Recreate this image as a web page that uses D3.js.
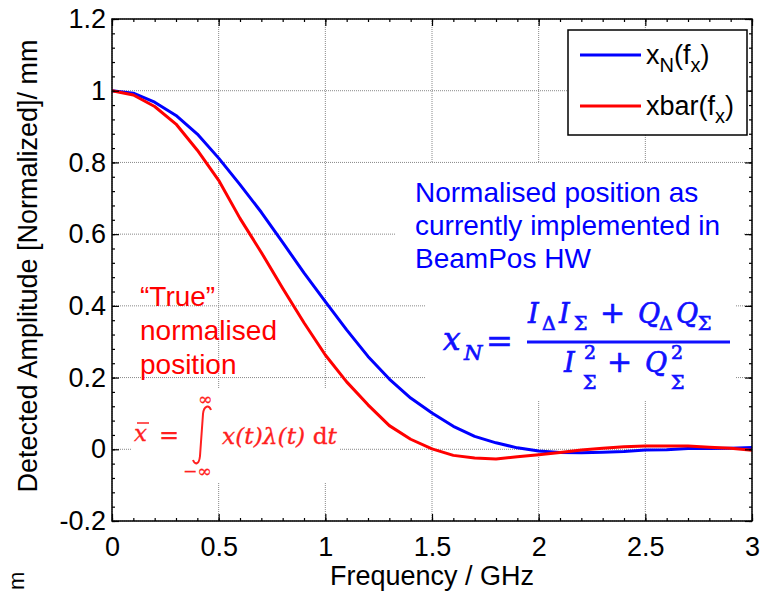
<!DOCTYPE html>
<html>
<head>
<meta charset="utf-8">
<script src="https://cdn.jsdelivr.net/npm/d3@7"></script>
<style>
  body { margin: 0; background: #fff; }
  svg text { font-family: "Liberation Sans", Arial, sans-serif; }
  .math { font-family: "DejaVu Serif", "Liberation Serif", serif; font-style: italic; }
  .mathup { font-family: "DejaVu Serif", "Liberation Serif", serif; }
  .grid line { stroke: #888; stroke-width: 1; stroke-dasharray: 1,1; }
  .axis path { display: none; }
  .axis line { stroke: #000; stroke-width: 1.2; }
  .axis text { font-size: 27px; fill: #000; }
</style>
</head>
<body>
<svg id="chart"></svg>
<script>
// frequency samples (GHz) and the two normalised responses
const freq = [0, 0.1, 0.2, 0.3, 0.4, 0.5, 0.6, 0.7, 0.8, 0.9, 1.0,
  1.1, 1.2, 1.3, 1.4, 1.5, 1.6, 1.7, 1.8, 1.9, 2.0,
  2.1, 2.2, 2.3, 2.4, 2.5, 2.6, 2.7, 2.8, 2.9, 3.0];
const xN = [1.000, 0.993, 0.968, 0.931, 0.879, 0.812, 0.738, 0.661, 0.577, 0.492, 0.412,
  0.333, 0.259, 0.196, 0.143, 0.101, 0.064, 0.036, 0.018, 0.004, -0.005,
  -0.009, -0.010, -0.008, -0.006, -0.002, -0.001, 0.002, 0.002, 0.003, 0.005];
const xBar = [1.000, 0.988, 0.956, 0.907, 0.834, 0.750, 0.644, 0.549, 0.449, 0.353, 0.263,
  0.188, 0.124, 0.066, 0.028, 0.001, -0.017, -0.024, -0.027, -0.021, -0.015,
  -0.009, -0.002, 0.003, 0.007, 0.009, 0.009, 0.009, 0.006, 0.003, -0.003];

const xTicks = [0, 0.5, 1, 1.5, 2, 2.5, 3];
const yTicks = [-0.2, 0, 0.2, 0.4, 0.6, 0.8, 1, 1.2];
const xMinorTicks = d3.range(0, 31).map(i => i / 10);
const yMinorTicks = d3.range(0, 36).map(i => -0.2 + i * 0.04);

const seriesColors = ['#0000ff', '#ff0000'];
const blueNote = ['Normalised position as', 'currently implemented in', 'BeamPos HW'];
const redNote = ['\u201CTrue\u201D', 'normalised', 'position'];

const margin = { top: 19, right: 12, bottom: 71, left: 112 };
const W = 764, H = 592;
const width = W - margin.left - margin.right;
const height = H - margin.top - margin.bottom;

const svg = d3.select('#chart').attr('width', W).attr('height', H);

const x = d3.scaleLinear().domain([0, 3]).range([margin.left, margin.left + width]);
const y = d3.scaleLinear().domain([-0.2, 1.2]).range([margin.top + height, margin.top]);

// grid
const grid = svg.append('g').attr('class', 'grid');
grid.selectAll('.gx').data(xTicks).join('line')
  .attr('x1', d => x(d)).attr('x2', d => x(d))
  .attr('y1', y(1.2)).attr('y2', y(-0.2));
grid.selectAll('.gy').data(yTicks).join('line')
  .attr('x1', x(0)).attr('x2', x(3))
  .attr('y1', d => y(d)).attr('y2', d => y(d));

// white backgrounds of the pasted annotations hide the grid
svg.append('rect').attr('x', 395).attr('y', 163).attr('width', 348).attr('height', 142).attr('fill', '#fff');
svg.append('rect').attr('x', 425).attr('y', 300).attr('width', 310).attr('height', 100).attr('fill', '#fff');
svg.append('rect').attr('x', 132).attr('y', 389).attr('width', 208).attr('height', 93).attr('fill', '#fff');

// curves
const line = d3.line().x((d, i) => x(freq[i])).y(d => y(d));
[xN, xBar].forEach((s, i) => {
  svg.append('path')
    .datum(s)
    .attr('fill', 'none')
    .attr('stroke', seriesColors[i])
    .attr('stroke-width', 3)
    .attr('stroke-linejoin', 'round')
    .attr('d', line);
});

// axes, ticks inward on all four sides
const fmt = d => String(d);
svg.append('g').attr('class', 'axis')
  .attr('transform', `translate(0,${y(-0.2)})`)
  .call(d3.axisBottom(x).tickValues(xTicks).tickSize(-7).tickPadding(16).tickFormat(fmt));
svg.append('g').attr('class', 'axis')
  .attr('transform', `translate(0,${y(-0.2)})`)
  .call(d3.axisBottom(x).tickValues(xMinorTicks).tickSize(-3).tickFormat(''));
svg.append('g').attr('class', 'axis')
  .attr('transform', `translate(0,${y(1.2)})`)
  .call(d3.axisTop(x).tickValues(xTicks).tickSize(-7).tickFormat(''));
svg.append('g').attr('class', 'axis')
  .attr('transform', `translate(0,${y(1.2)})`)
  .call(d3.axisTop(x).tickValues(xMinorTicks).tickSize(-3).tickFormat(''));
svg.append('g').attr('class', 'axis')
  .attr('transform', `translate(${x(0)},0)`)
  .call(d3.axisLeft(y).tickValues(yTicks).tickSize(-7).tickPadding(6).tickFormat(fmt));
svg.append('g').attr('class', 'axis')
  .attr('transform', `translate(${x(0)},0)`)
  .call(d3.axisLeft(y).tickValues(yMinorTicks).tickSize(-3).tickFormat(''));
svg.append('g').attr('class', 'axis')
  .attr('transform', `translate(${x(3)},0)`)
  .call(d3.axisRight(y).tickValues(yTicks).tickSize(-7).tickFormat(''));
svg.append('g').attr('class', 'axis')
  .attr('transform', `translate(${x(3)},0)`)
  .call(d3.axisRight(y).tickValues(yMinorTicks).tickSize(-3).tickFormat(''));

svg.append('rect')
  .attr('x', x(0)).attr('y', y(1.2))
  .attr('width', x(3) - x(0)).attr('height', y(-0.2) - y(1.2))
  .attr('fill', 'none').attr('stroke', '#000').attr('stroke-width', 1.5);

// axis titles
svg.append('text')
  .attr('x', (x(0) + x(3)) / 2).attr('y', 585)
  .attr('text-anchor', 'middle').attr('font-size', 27)
  .text('Frequency / GHz');
svg.append('text')
  .attr('transform', `translate(37,${(y(-0.2) + y(1.2)) / 2 - 4}) rotate(-90)`)
  .attr('text-anchor', 'middle').attr('font-size', 27)
  .text('Detected Amplitude [Normalized]/ mm');
// stray fragment of a neighbouring label
svg.append('text')
  .attr('transform', 'translate(24,590) rotate(-90)')
  .attr('font-size', 22)
  .text('m');

// legend
const lg = svg.append('g');
lg.append('rect').attr('x', 568).attr('y', 30).attr('width', 179).attr('height', 105)
  .attr('fill', '#fff').attr('stroke', '#000').attr('stroke-width', 1.5);
[55, 106].forEach((ly, i) => {
  lg.append('line').attr('x1', 580).attr('x2', 641).attr('y1', ly).attr('y2', ly)
    .attr('stroke', seriesColors[i]).attr('stroke-width', 3);
});
const l1 = lg.append('text').attr('x', 646).attr('y', 64).attr('font-size', 27);
l1.append('tspan').text('x');
l1.append('tspan').attr('font-size', 20).attr('dy', 8).text('N');
l1.append('tspan').attr('dy', -8).text('(f');
l1.append('tspan').attr('font-size', 20).attr('dy', 8).text('x');
l1.append('tspan').attr('dy', -8).text(')');
const l2 = lg.append('text').attr('x', 646).attr('y', 115).attr('font-size', 27);
l2.append('tspan').text('xbar(f');
l2.append('tspan').attr('font-size', 20).attr('dy', 8).text('x');
l2.append('tspan').attr('dy', -8).text(')');

// annotations
svg.append('text').attr('fill', '#0000ff').attr('font-size', 28)
  .selectAll('tspan').data(blueNote).join('tspan')
  .attr('x', 415).attr('y', (d, i) => 202 + i * 33).text(d => d);
svg.append('text').attr('fill', '#ff0000').attr('font-size', 28)
  .selectAll('tspan').data(redNote).join('tspan')
  .attr('x', 140).attr('y', (d, i) => 306 + i * 34).text(d => d);

// x_N formula
const blue = '#1010ff';
function glyph(t, gx, gy, size, cls, color, weight) {
  return svg.append('text').attr('class', cls || 'math').attr('x', gx).attr('y', gy)
    .attr('font-size', size).attr('fill', color || blue)
    .attr('stroke', color || blue).attr('stroke-width', weight === undefined ? 0.7 : weight)
    .text(t);
}
glyph('x', 443, 350, 31);
glyph('N', 464, 360, 21);
glyph('=', 486, 352, 32, 'mathup');
svg.append('line').attr('x1', 527).attr('x2', 730).attr('y1', 342).attr('y2', 342)
  .attr('stroke', blue).attr('stroke-width', 3);
glyph('I', 528, 323, 27);
glyph('\u0394', 542, 330, 19, 'mathup');
glyph('I', 559, 323, 27);
glyph('\u03A3', 574, 330, 19, 'mathup');
glyph('+', 600, 323, 30, 'mathup');
glyph('Q', 638, 323, 27);
glyph('\u0394', 659, 330, 19, 'mathup');
glyph('Q', 676, 323, 27);
glyph('\u03A3', 698, 330, 19, 'mathup');
glyph('I', 564, 372, 27);
glyph('2', 584, 359, 19, 'mathup');
glyph('\u03A3', 583, 389, 19, 'mathup');
glyph('+', 607, 372, 30, 'mathup');
glyph('Q', 645, 372, 27);
glyph('2', 671, 359, 19, 'mathup');
glyph('\u03A3', 671, 389, 19, 'mathup');

// x bar formula
const red = '#ff2020';
glyph('x', 134, 441, 23, 'math', red, 0.3);
svg.append('line').attr('x1', 137).attr('x2', 149).attr('y1', 423).attr('y2', 423)
  .attr('stroke', red).attr('stroke-width', 1.5);
glyph('=', 159, 443, 24, 'mathup', red, 0.3);
svg.append('path')
  .attr('d', 'M211,410 C209,405 204,405 203,414 L200,456 C199,465 195,465 193,460')
  .attr('fill', 'none').attr('stroke', red).attr('stroke-width', 2);
glyph('\u221E', 198, 405, 17, 'mathup', red, 0.3);
glyph('\u2212\u221E', 183, 477, 17, 'mathup', red, 0.3);
const fx = svg.append('text').attr('class', 'math').attr('x', 222).attr('y', 444)
  .attr('font-size', 22).attr('fill', red).attr('stroke', red).attr('stroke-width', 0.3)
  .attr('textLength', 115).attr('lengthAdjust', 'spacingAndGlyphs');
fx.append('tspan').text('x(t)\u03BB(t) ');
fx.append('tspan').style('font-style', 'normal').text('d');
fx.append('tspan').text('t');
</script>
</body>
</html>
